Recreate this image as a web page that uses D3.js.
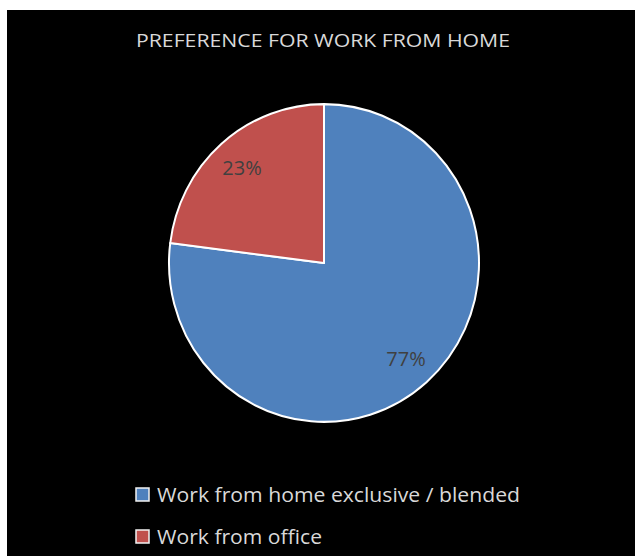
<!DOCTYPE html>
<html>
<head>
<meta charset="utf-8">
<script src="https://cdn.jsdelivr.net/npm/d3@7"></script>
<style>
  html, body { margin: 0; padding: 0; background: #fff; }
  svg { display: block; }
</style>
</head>
<body>
<svg id="piechart" width="635" height="556"></svg>
<script>
// DATA
const categories = ["Work from home exclusive / blended", "Work from office"];
const values = [77, 23];
const labels = ["77%", "23%"];
const colors = ["#4f81bd", "#c0504d"];
const title = "PREFERENCE FOR WORK FROM HOME";

const width = 635, height = 556;
const cx = 324, cy = 263, radius = 155;

const svg = d3.select("svg#piechart");

// background panel
svg.append("rect")
    .attr("x", 7).attr("y", 10)
    .attr("width", width - 7).attr("height", height - 10)
    .attr("fill", "#000");

// title
svg.append("text")
    .attr("x", 323).attr("y", 47)
    .attr("text-anchor", "middle")
    .attr("font-family", "Open Sans, sans-serif")
    .attr("font-size", 18)
    .attr("fill", "#d9d9d9")
    .attr("textLength", 374)
    .attr("lengthAdjust", "spacingAndGlyphs")
    .text(title);

// PIE
const table = categories.map((c, i) => ({ name: c, value: values[i], label: labels[i], color: colors[i] }));

const pie = d3.pie()
    .sort(null)
    .value(d => d.value);

const arc = d3.arc()
    .innerRadius(0)
    .outerRadius(radius);

const labelArc = d3.arc()
    .innerRadius(radius * 0.8)
    .outerRadius(radius * 0.8);

// the picture is a little taller than wide
const g = svg.append("g")
    .attr("transform", `translate(${cx},${cy}) scale(1,1.025)`);

const slices = pie(table);

g.selectAll("path")
    .data(slices)
    .join("path")
    .attr("d", arc)
    .attr("fill", d => d.data.color)
    .attr("stroke", "#fff")
    .attr("stroke-width", 2)
    .attr("stroke-linejoin", "round");

g.selectAll("text")
    .data(slices)
    .join("text")
    .attr("transform", d => `translate(${labelArc.centroid(d)})`)
    .attr("dy", "0.35em")
    .attr("text-anchor", "middle")
    .attr("font-family", "Open Sans, sans-serif")
    .attr("font-size", 20)
    .attr("fill", "#404040")
    .text(d => d.data.label);

// LEGEND
const legend = svg.append("g")
    .attr("transform", "translate(136,488)");

const item = legend.selectAll("g")
    .data(table)
    .join("g")
    .attr("transform", (d, i) => `translate(0,${i * 42})`);

item.append("rect")
    .attr("x", 0).attr("y", 0)
    .attr("width", 13).attr("height", 13)
    .attr("fill", d => d.color)
    .attr("stroke", "#f2f2f2")
    .attr("stroke-width", 1.5);

item.append("text")
    .attr("x", 21).attr("y", 14)
    .attr("font-family", "Open Sans, sans-serif")
    .attr("font-size", 20)
    .attr("fill", "#d9d9d9")
    .attr("textLength", (d, i) => i === 0 ? 363 : 165)
    .attr("lengthAdjust", "spacingAndGlyphs")
    .text(d => d.name);
</script>
</body>
</html>
